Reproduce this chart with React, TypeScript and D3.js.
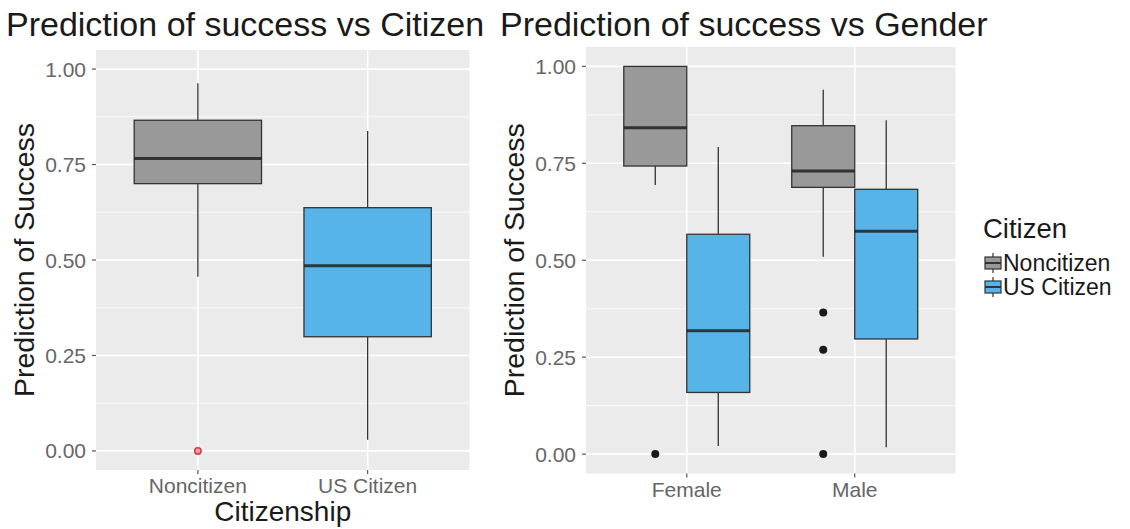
import React from "react";
import * as d3 from "d3";

// ---------- DATA ----------
const citizenCategories = ["Noncitizen", "US Citizen"];
// left panel: Prediction of success by citizenship
const leftWhiskerLow = [0.456, 0.029];
const leftQ1 = [0.700, 0.299];
const leftMedian = [0.766, 0.485];
const leftQ3 = [0.866, 0.637];
const leftWhiskerHigh = [0.963, 0.838];
const leftOutliers = [[0.0], []];

// right panel: by gender, dodged by citizenship
const genderCategories = ["Female", "Male"];
// order: Female-Noncitizen, Female-US Citizen, Male-Noncitizen, Male-US Citizen
const rightWhiskerLow = [0.694, 0.021, 0.509, 0.018];
const rightQ1 = [0.743, 0.159, 0.688, 0.297];
const rightMedian = [0.842, 0.318, 0.730, 0.575];
const rightQ3 = [1.0, 0.567, 0.847, 0.683];
const rightWhiskerHigh = [1.0, 0.792, 0.940, 0.861];
const rightOutliers = [[0.0], [], [0.365, 0.269, 0.0], []];

const yTicks = [0, 0.25, 0.5, 0.75, 1.0];
const yMinorTicks = [0.125, 0.375, 0.625, 0.875];

const groupColors = ["#999999", "#56B4E9"];

const FONT = "'Liberation Sans', Arial, Helvetica, sans-serif";

type Stat = { lo: number; q1: number; med: number; q3: number; hi: number; out: number[]; fill: string; x: number; w: number };

function BoxMark({ s, y, outlierStyle }: { s: Stat; y: d3.ScaleLinear<number, number>; outlierStyle: "red" | "black" }) {
  const x0 = s.x - s.w / 2;
  return (
    <g>
      <line x1={s.x} x2={s.x} y1={y(s.hi)} y2={y(s.q3)} stroke="#333" strokeWidth={1.3} />
      <line x1={s.x} x2={s.x} y1={y(s.q1)} y2={y(s.lo)} stroke="#333" strokeWidth={1.3} />
      <rect x={x0} y={y(s.q3)} width={s.w} height={y(s.q1) - y(s.q3)} fill={s.fill} stroke="#333" strokeWidth={1.3} />
      <line x1={x0} x2={x0 + s.w} y1={y(s.med)} y2={y(s.med)} stroke="#222" strokeWidth={3} opacity={0.85} />
      {s.out.map((v, i) =>
        outlierStyle === "red" ? (
          <circle key={i} cx={s.x} cy={y(v)} r={3.2} fill="#f0a0a8" stroke="#d0404e" strokeWidth={1.6} />
        ) : (
          <circle key={i} cx={s.x} cy={y(v)} r={4} fill="#1a1a1a" />
        )
      )}
    </g>
  );
}

function Panel({
  left, right, top, bottom, y, x, title, titleX, yTitleX, tickLabelEnd,
}: any) {
  return (
    <g>
      <rect x={left} y={top} width={right - left} height={bottom - top} fill="#EBEBEB" />
      {yMinorTicks.map((t) => (
        <line key={"m" + t} x1={left} x2={right} y1={y(t)} y2={y(t)} stroke="#fff" strokeWidth={0.8} />
      ))}
      {yTicks.map((t) => (
        <line key={"M" + t} x1={left} x2={right} y1={y(t)} y2={y(t)} stroke="#fff" strokeWidth={1.6} />
      ))}
      {x.domain().map((c: string) => (
        <line key={"v" + c} x1={x(c)} x2={x(c)} y1={top} y2={bottom} stroke="#fff" strokeWidth={1.6} />
      ))}
      {yTicks.map((t) => (
        <g key={"t" + t}>
          <line x1={left - 4} x2={left} y1={y(t)} y2={y(t)} stroke="#555" strokeWidth={1.2} />
          <text x={tickLabelEnd} y={y(t)} dy="0.36em" textAnchor="end" fontSize={21} fill="#666" fontFamily={FONT}>
            {d3.format(".2f")(t)}
          </text>
        </g>
      ))}
      {x.domain().map((c: string) => (
        <g key={"xt" + c}>
          <line x1={x(c)} x2={x(c)} y1={bottom} y2={bottom + 4} stroke="#555" strokeWidth={1.2} />
          <text x={x(c)} y={bottom + 23} textAnchor="middle" fontSize={21} fill="#666" fontFamily={FONT}>
            {c}
          </text>
        </g>
      ))}
      <text x={titleX} y={36} fontSize={34} fill="#1a1a1a" fontFamily={FONT}>{title}</text>
      <text
        transform={`translate(${yTitleX},${(top + bottom) / 2}) rotate(-90)`}
        textAnchor="middle" fontSize={28.5} fill="#1a1a1a" fontFamily={FONT}
      >
        Prediction of Success
      </text>
    </g>
  );
}

export default function App() {
  // left panel
  const L = { left: 96, right: 469.5, top: 50, bottom: 470 };
  const yL = d3.scaleLinear().domain([-0.05, 1.05]).range([L.bottom, L.top]);
  const xL = d3.scalePoint<string>().domain(citizenCategories).range([L.left, L.right]).padding(0.6);
  const unitL = xL.step();
  const leftStats: Stat[] = citizenCategories.map((c, i) => ({
    lo: leftWhiskerLow[i], q1: leftQ1[i], med: leftMedian[i], q3: leftQ3[i], hi: leftWhiskerHigh[i],
    out: leftOutliers[i], fill: groupColors[i], x: xL(c)!, w: unitL * 0.75,
  }));

  // right panel
  const R = { left: 586, right: 955.5, top: 47, bottom: 473.5 };
  const yR = d3.scaleLinear().domain([-0.05, 1.05]).range([R.bottom, R.top]);
  const xR = d3.scalePoint<string>().domain(genderCategories).range([R.left, R.right]).padding(0.6);
  const unitR = xR.step();
  const dodge = d3.scaleBand<string>().domain(citizenCategories).range([-unitR * 0.375, unitR * 0.375]);
  const rightStats: Stat[] = [];
  genderCategories.forEach((g, gi) => {
    citizenCategories.forEach((c, ci) => {
      const k = gi * 2 + ci;
      rightStats.push({
        lo: rightWhiskerLow[k], q1: rightQ1[k], med: rightMedian[k], q3: rightQ3[k], hi: rightWhiskerHigh[k],
        out: rightOutliers[k], fill: groupColors[ci],
        x: xR(g)! + dodge(c)! + dodge.bandwidth() / 2, w: dodge.bandwidth(),
      });
    });
  });

  const legendX = 985;
  const legendY0 = 263;
  const legendStep = 24;

  return (
    <svg width={1130} height={529} style={{ position: "absolute", left: 0, top: 0, background: "#fff" }}>
      <rect x={0} y={0} width={1130} height={529} fill="#fff" />
      <Panel {...L} y={yL} x={xL} title="Prediction of success vs Citizen" titleX={6} yTitleX={34} tickLabelEnd={86} />
      {leftStats.map((s, i) => <BoxMark key={i} s={s} y={yL} outlierStyle="red" />)}
      <text x={(L.left + L.right) / 2} y={521} textAnchor="middle" fontSize={28} fill="#1a1a1a" fontFamily={FONT}>
        Citizenship
      </text>

      <Panel {...R} y={yR} x={xR} title="Prediction of success vs Gender" titleX={500} yTitleX={524} tickLabelEnd={576} />
      {rightStats.map((s, i) => <BoxMark key={i} s={s} y={yR} outlierStyle="black" />)}

      {/* legend */}
      <text x={983} y={238} fontSize={27.5} fill="#1a1a1a" fontFamily={FONT}>Citizen</text>
      {citizenCategories.map((c, i) => {
        const cy = legendY0 + i * legendStep;
        return (
          <g key={c}>
            <line x1={legendX + 8} x2={legendX + 8} y1={cy - 10} y2={cy + 10} stroke="#333" strokeWidth={1.2} />
            <rect x={legendX} y={cy - 6} width={16} height={12} fill={groupColors[i]} stroke="#333" strokeWidth={1.2} />
            <line x1={legendX} x2={legendX + 16} y1={cy} y2={cy} stroke="#333" strokeWidth={2} />
            <text x={legendX + 18} y={cy} dy="0.36em" fontSize={23} fill="#1a1a1a" fontFamily={FONT}>{c}</text>
          </g>
        );
      })}
    </svg>
  );
}
